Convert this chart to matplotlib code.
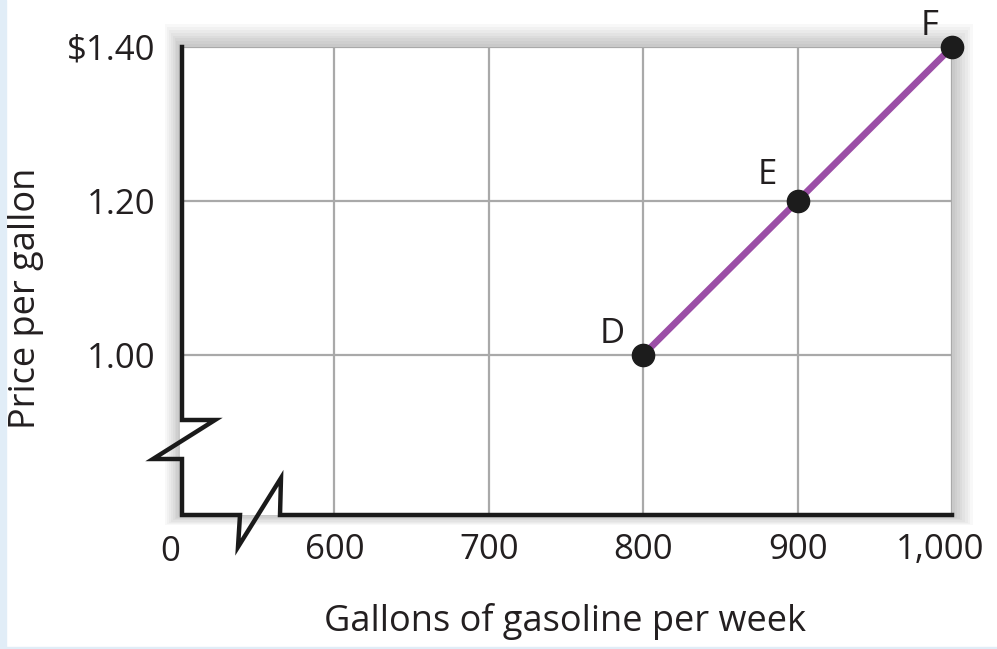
import matplotlib
matplotlib.use("Agg")
import matplotlib.pyplot as plt
from matplotlib.patches import Rectangle
import matplotlib.transforms as mtransforms

plt.rcParams['font.family'] = ['Open Sans', 'DejaVu Sans']

# Data
quantity = [800, 900, 1000]
price = [1.00, 1.20, 1.40]
point_labels = ["D", "E", "F"]
x_ticks = [600, 700, 800, 900, 1000]
x_ticklabels = ["600", "700", "800", "900", "1,000"]
y_ticks = [1.00, 1.20, 1.40]
y_ticklabels = ["1.00", "1.20", "$1.40"]
x_origin_label = "0"
xlabel = "Gallons of gasoline per week"
ylabel = "Price per gallon"

FS = 25
TXT = "#231f20"

W, H = 997, 649
fig = plt.figure(figsize=(W / 100, H / 100), dpi=100)
fig.patch.set_facecolor("white")

# light blue frame strips
fig.patches.append(Rectangle((0, 0), 6 / W, 1, transform=fig.transFigure, color="#e1edf7", zorder=0))
fig.patches.append(Rectangle((0, 0), 1, 2 / H, transform=fig.transFigure, color="#e1edf7", zorder=0))

left, right, top, bottom = 180, 952, 47, 515
ax = fig.add_axes([left / W, 1 - bottom / H, (right - left) / W, (bottom - top) / H])
ax.set_xlim(500, 1000)
ax.set_ylim(0.792, 1.40)

# soft shadow around plot box (offset up-right)
for i in range(8):
    pad = (8 - i) * 2.6
    fig.patches.append(Rectangle(((left - pad * 0.7) / W, 1 - (bottom + pad * 0.5) / H),
                                 (right - left + pad * 1.7) / W, (bottom - top + pad * 1.6) / H,
                                 transform=fig.transFigure, facecolor="#000000", alpha=0.028,
                                 edgecolor="none", zorder=0.5))
ax.set_facecolor("white")
ax.set_zorder(1)

for s in ax.spines.values():
    s.set_visible(False)

# grid
for xv in x_ticks:
    ax.axvline(xv, color="#a9a9a9", lw=1.6, zorder=1)
for yv in y_ticks:
    ax.axhline(yv, color="#a9a9a9", lw=1.6, zorder=1)
ax.set_xticks(x_ticks)
ax.set_yticks(y_ticks)
ax.tick_params(length=0, labelsize=FS, colors=TXT)
ax.set_xticklabels(x_ticklabels)
ax.set_yticklabels(y_ticklabels)
ax.tick_params(axis='x', pad=13)
ax.tick_params(axis='y', pad=18)
lbl = ax.get_xticklabels()[-1]
lbl.set_transform(lbl.get_transform() + mtransforms.ScaledTranslation(-12 / 100, 0, fig.dpi_scale_trans))

# axes with break marks (pixel-based path in figure coords)
def fx(px):
    return px / W
def fy(py):
    return 1 - py / H

ypath = [(182, 47), (182, 420), (215, 420), (153, 459), (182, 459), (182, 515),
         (240, 515), (238, 547), (281, 478), (280, 515), (952, 515)]
fig.add_artist(plt.Line2D([fx(p[0]) for p in ypath], [fy(p[1]) for p in ypath],
                          transform=fig.transFigure, color="#1a1a1a", lw=3.2,
                          solid_joinstyle="miter", zorder=5))

# supply curve
ax.plot(quantity, price, color="#9b4ea6", lw=4.8, zorder=3, clip_on=False,
        solid_capstyle="butt")
ax.plot(quantity, price, "o", color="#1c1c1c", ms=16, zorder=4, clip_on=False)

offsets = [(-22, 15), (-22, 19), (-16, 15)]
for q, p, t, (dx, dy) in zip(quantity, price, point_labels, offsets):
    ax.annotate(t, (q, p), xytext=(dx, dy), textcoords="offset points",
                fontsize=FS, color=TXT, ha="center", va="center")

fig.text(fx(170), fy(552), x_origin_label, fontsize=FS, color=TXT, ha="center", va="center")
fig.text(fx(565), fy(622), xlabel, fontsize=26, color=TXT, ha="center", va="center")
fig.text(fx(26), fy(298), ylabel, fontsize=26, color=TXT, ha="center", va="center",
         rotation=90)

fig.savefig("out.png", dpi=100, facecolor=fig.get_facecolor())
